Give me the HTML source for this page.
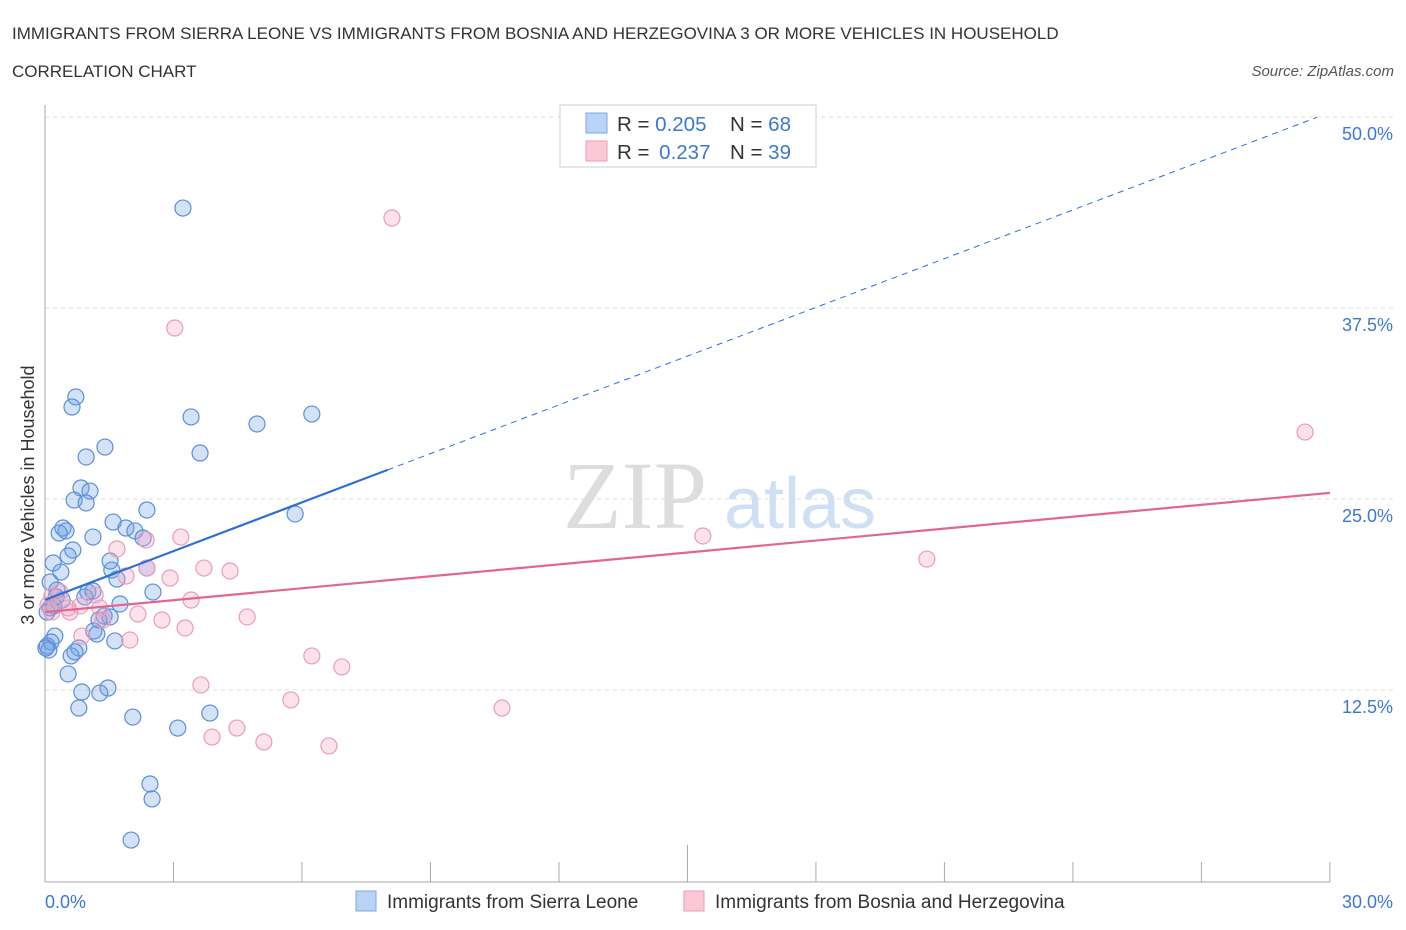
<!DOCTYPE html>
<html><head><meta charset="utf-8"><style>
body{margin:0;background:#fff;font-family:"Liberation Sans",sans-serif}
svg{display:block}
</style></head><body>
<svg id="chart" width="1406" height="930">
<text x="12" y="39" font-size="17" fill="#333">IMMIGRANTS FROM SIERRA LEONE VS IMMIGRANTS FROM BOSNIA AND HERZEGOVINA 3 OR MORE VEHICLES IN HOUSEHOLD</text>
<text x="12" y="77" font-size="17" fill="#333">CORRELATION CHART</text>
<text x="1394" y="76" font-size="15" fill="#555" font-style="italic" text-anchor="end">Source: ZipAtlas.com</text>
<text x="635" y="528" font-size="96" fill="#ddd" font-family="Liberation Serif" text-anchor="middle">ZIP</text>
<text x="800" y="528" font-size="72" fill="#cfe0f5" text-anchor="middle">atlas</text>
<g id="grid"></g>
<g id="axes"></g>
<g id="marks"></g>
<text transform="translate(34,495) rotate(-90)" font-size="18" fill="#333" text-anchor="middle">3 or more Vehicles in Household</text>
<text x="45" y="908" font-size="18" fill="#3b78d4">0.0%</text>
<text x="1393" y="908" font-size="18" fill="#3b78d4" text-anchor="end">30.0%</text>
<g>
<rect x="560" y="105" width="256" height="62" fill="#fff" stroke="#ccc"/>
<rect x="586" y="113" width="21" height="20" fill="#b8d3f5" stroke="#7aa7e6"/>
<rect x="586" y="141" width="21" height="20" fill="#fcc8d8" stroke="#ee9ab5"/>
<text x="617" y="131" font-size="20.5" fill="#333">R = <tspan fill="#3b78d4">0.205</tspan><tspan x="730">N = </tspan><tspan fill="#3b78d4">68</tspan></text>
<text x="617" y="159" font-size="20.5" fill="#333">R = <tspan fill="#3b78d4" dx="4">0.237</tspan><tspan x="730">N = </tspan><tspan fill="#3b78d4">39</tspan></text>
</g>
<g>
<rect x="356" y="891" width="20" height="20" fill="#b8d3f5" stroke="#7aa7e6"/>
<text x="387" y="908" font-size="19" fill="#333">Immigrants from Sierra Leone</text>
<rect x="684" y="891" width="20" height="20" fill="#fcc8d8" stroke="#ee9ab5"/>
<text x="715" y="908" font-size="19" fill="#333">Immigrants from Bosnia and Herzegovina</text>
</g>
</svg>
<script>
const yTicks=[12.5,25,37.5,50];
const yTickLabels=["12.5%","25.0%","37.5%","50.0%"];
const xTicks=[0,3,6,9,12,15,18,21,24,27,30];
const blueX=[3.22,0.72,0.63,3.41,4.95,6.23,1.40,0.96,3.62,0.84,1.05,0.68,0.96,5.84,2.38,1.59,0.42,0.49,0.33,1.89,2.10,1.12,2.29,0.65,0.54,0.19,1.52,2.38,0.37,1.56,1.68,0.12,2.52,0.28,1.00,1.12,0.26,0.93,0.40,1.75,0.12,0.21,0.05,1.38,1.52,1.26,1.14,1.21,0.23,1.63,0.14,0.79,0.05,0.09,0.61,0.70,0.54,1.47,0.86,1.28,0.79,2.05,3.85,3.10,2.45,2.50,2.01,0.02];
const blueY=[44.04,31.68,31.02,30.37,29.91,30.56,28.40,27.75,28.01,25.72,25.52,24.93,24.74,24.02,24.28,23.49,23.10,22.91,22.77,23.10,22.91,22.51,22.45,21.66,21.27,20.81,20.94,20.48,20.22,20.35,19.76,19.57,18.91,19.04,18.91,18.98,18.59,18.59,18.39,18.13,17.87,18.00,17.60,17.34,17.28,17.08,16.36,16.16,16.03,15.71,15.64,15.25,15.38,15.12,14.73,14.99,13.55,12.63,12.37,12.30,11.32,10.73,10.99,10.01,6.35,5.37,2.68,15.25];
const pinkX=[8.10,3.03,29.42,15.36,20.59,3.17,1.68,2.36,2.38,3.71,4.32,2.92,1.89,3.41,0.35,0.16,0.07,0.54,1.17,1.28,0.82,0.58,2.17,2.73,4.72,1.35,3.27,0.86,1.98,6.23,6.93,3.64,5.74,10.67,4.48,3.90,5.11,6.63,0.16];
const pinkY=[43.39,36.19,29.38,22.58,21.07,22.51,21.73,22.32,20.48,20.48,20.29,19.83,19.96,18.39,18.91,18.65,18.06,17.87,18.72,17.87,18.00,17.60,17.47,17.08,17.28,17.08,16.56,16.03,15.77,14.73,14.01,12.83,11.85,11.32,10.01,9.42,9.10,8.84,17.60];
const blueTrend=[18.4,50.3], pinkTrend=[17.6,25.4];
const X=v=>45+v*42.83, Y=v=>881-v*15.28;
const NS="http://www.w3.org/2000/svg";
function mk(p,t,a){const e=document.createElementNS(NS,t);for(const k in a)e.setAttribute(k,a[k]);p.appendChild(e);return e;}
const grid=document.getElementById('grid'),axes=document.getElementById('axes'),marks=document.getElementById('marks');
yTicks.forEach((t,i)=>{
 const l=mk(grid,'line',{x1:45,x2:1395,y1:Y(t),y2:Y(t),stroke:'#ddd','stroke-dasharray':'4,4'});
 
 
 const tx=mk(grid,'text',{x:1393,y:Y(t)+23,'font-size':18,fill:'#3b78d4','text-anchor':'end'});
 tx.textContent=yTickLabels[i];
 
 
});
const ya=mk(axes,'line',{x1:45,x2:45,y1:105,y2:882,stroke:'#aaa'});


const xa=mk(axes,'line',{x1:45,x2:1330,y1:882,y2:882,stroke:'#aaa'});


xTicks.forEach(t=>{
 const l=mk(axes,'line',{x1:X(t),x2:X(t),y1:t==15?845:862,y2:882,stroke:'#aaa'});
 
 
});
blueX.forEach((x,i)=>{
 const c=mk(marks,'circle',{cx:X(x),cy:Y(blueY[i]),r:8,fill:'rgba(110,160,230,0.3)',stroke:'#5b8fd9','stroke-width':1.2});
 
 
});
pinkX.forEach((x,i)=>{
 const c=mk(marks,'circle',{cx:X(x),cy:Y(pinkY[i]),r:8,fill:'rgba(245,160,190,0.3)',stroke:'#eb9cb8','stroke-width':1.2});
 
 
});
const bAt=v=>blueTrend[0]+(blueTrend[1]-blueTrend[0])*v/30;
const b1=mk(marks,'line',{x1:X(0),y1:Y(bAt(0)),x2:X(8),y2:Y(bAt(8)),stroke:'#2c6fd6','stroke-width':2.2});


const b2=mk(marks,'line',{x1:X(8),y1:Y(bAt(8)),x2:X(29.7),y2:Y(bAt(29.7)),stroke:'#2c6fd6','stroke-width':1,'stroke-dasharray':'6,5'});


const p1=mk(marks,'line',{x1:X(0),y1:Y(pinkTrend[0]),x2:X(30),y2:Y(pinkTrend[1]),stroke:'#e26592','stroke-width':2.2});


</script>
</body></html>
